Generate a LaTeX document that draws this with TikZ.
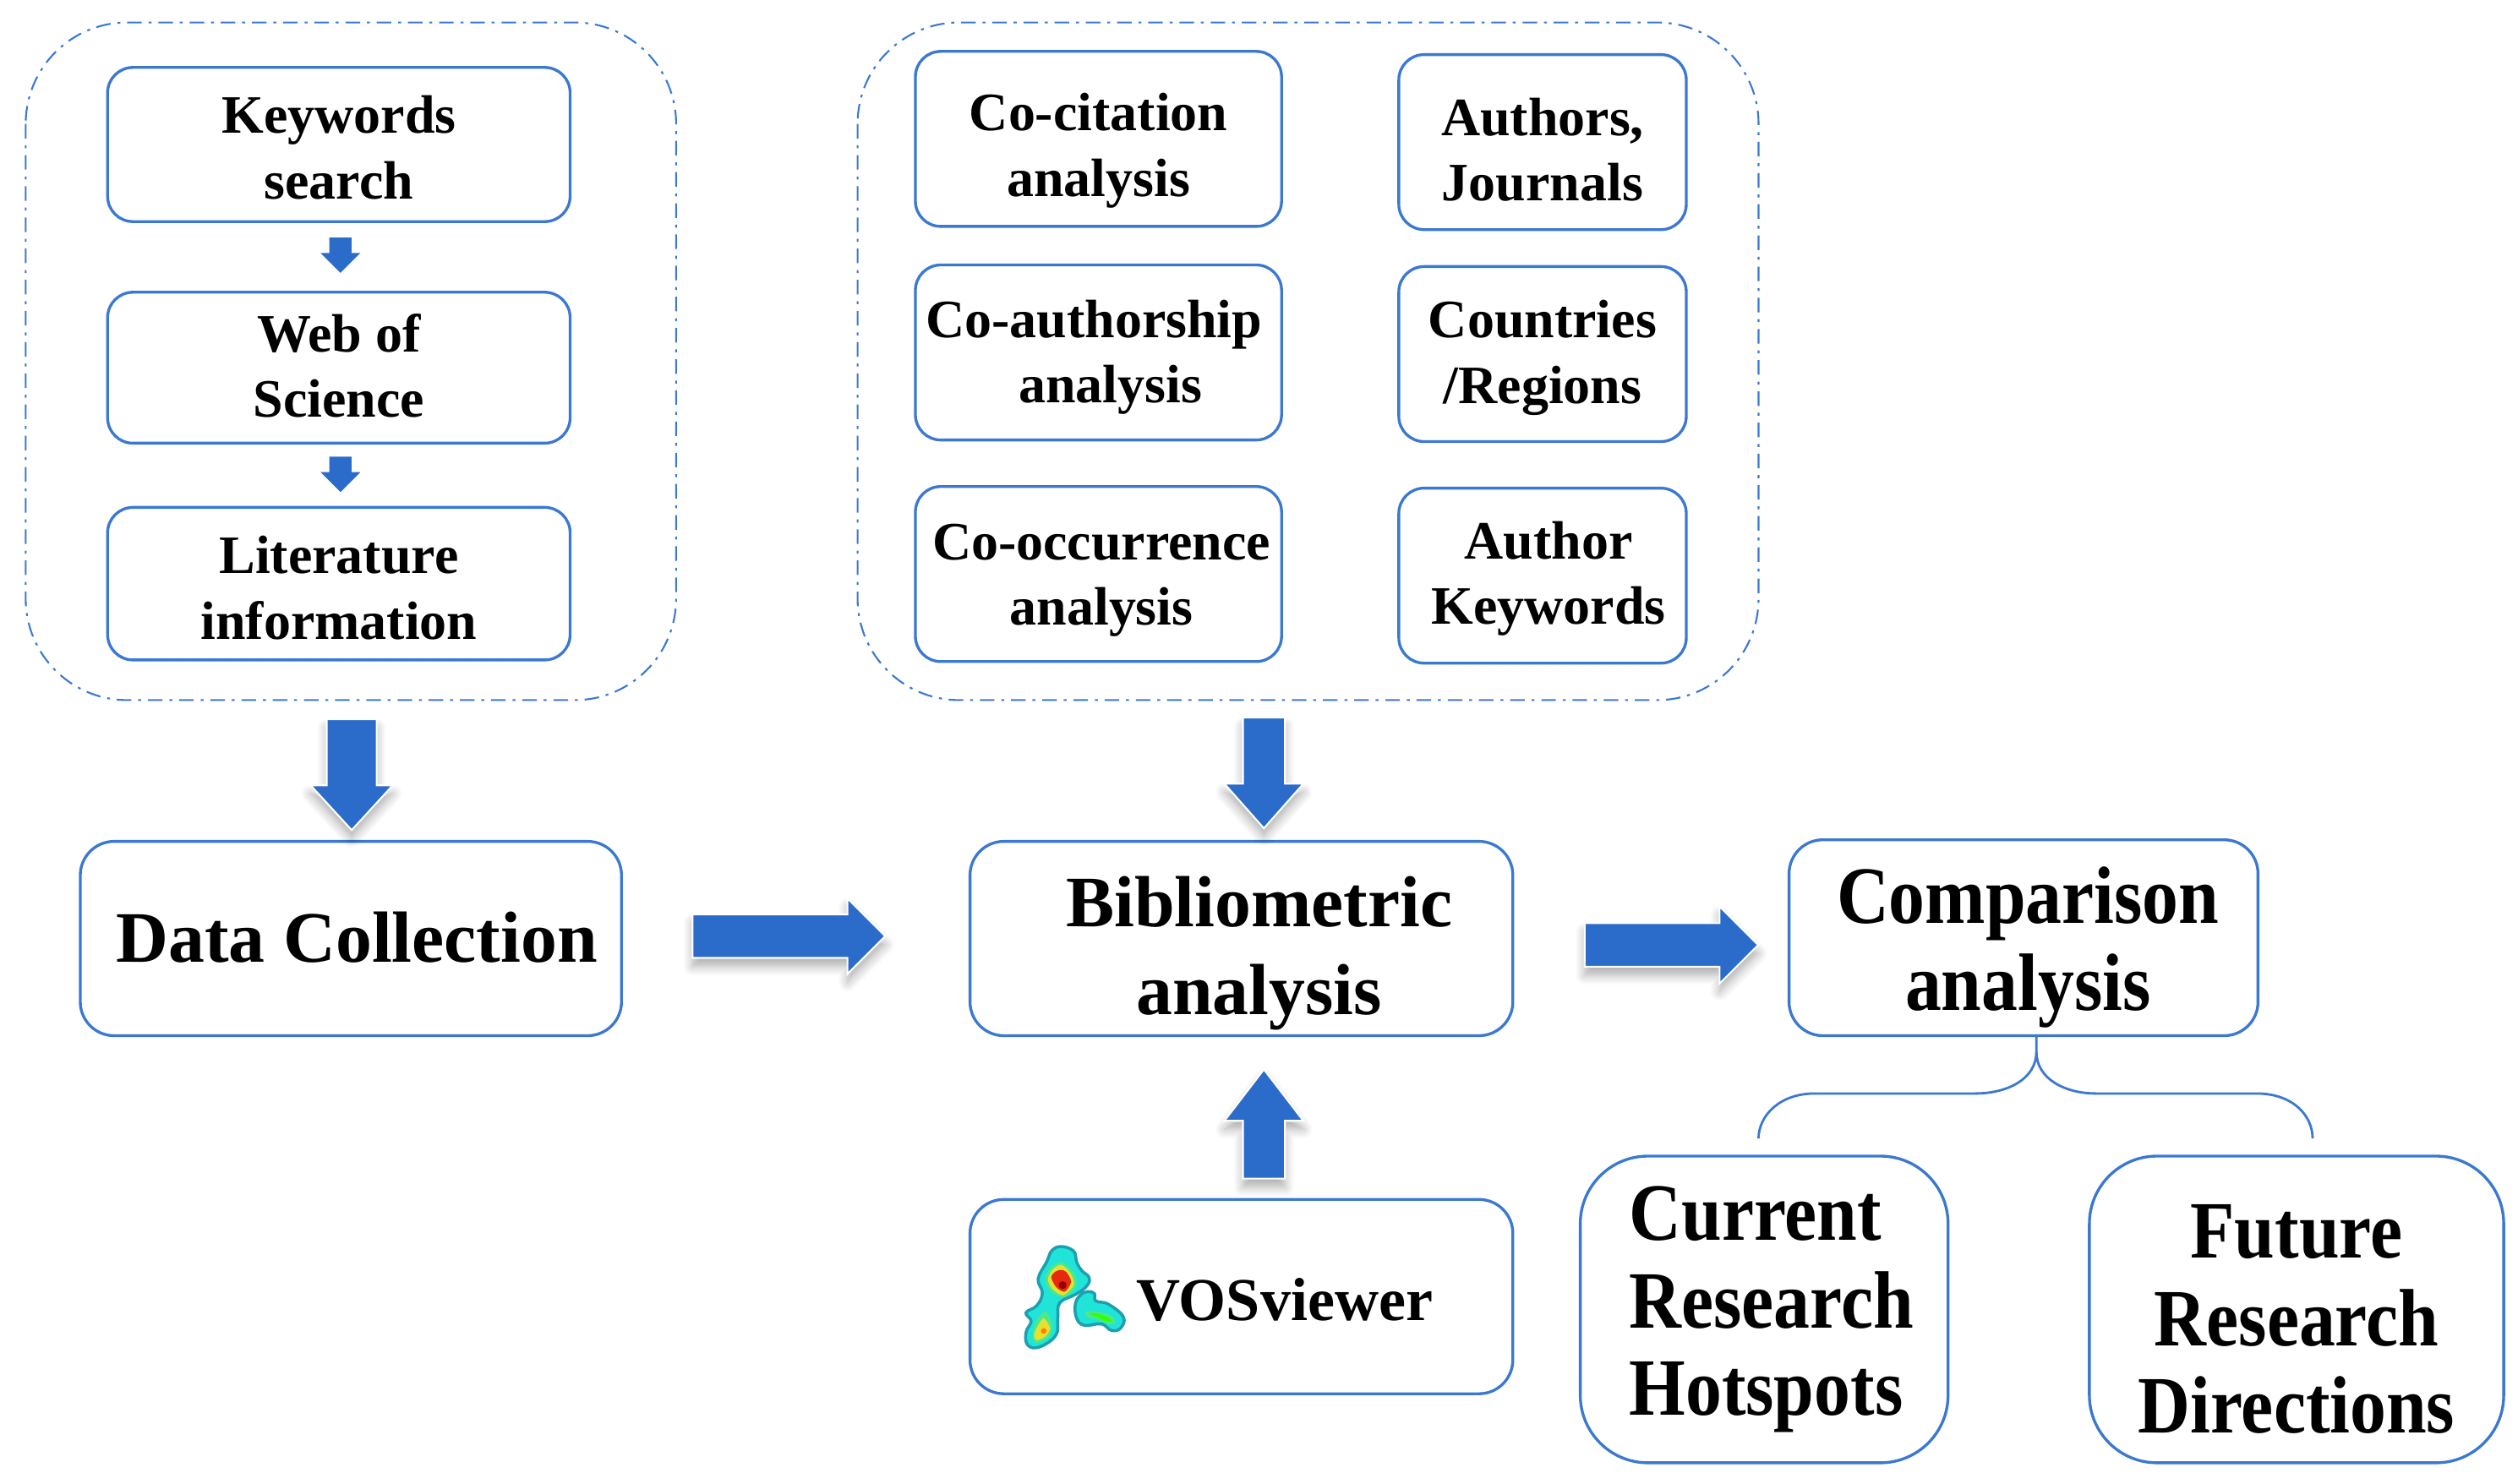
\documentclass[tikz,border=0pt]{standalone}
\usepackage{fontspec}
\setmainfont{Liberation Serif}[Ligatures=TeX]
\newfontfamily\tallfont{Liberation Serif}[FakeStretch=.89]
\usetikzlibrary{shapes.arrows,shadows.blur}
\definecolor{boxblue}{HTML}{3A78D2}
\definecolor{arrowblue}{HTML}{2B6CCB}
\newcommand{\du}{0.19mm}
\newcommand{\pad}[1]{\rule{0pt}{#1}}
\newcommand{\sink}[1]{\rule[-#1]{0pt}{0pt}}
\begin{document}
\begin{tikzpicture}
  [x=\du,y=-\du,every node/.style={align=center,text=black}]
  \tikzstyle{box} = [draw=boxblue,line width=.95pt,rounded corners=3mm,inner sep=0pt,
    font=\fontsize{18.2}{22}\bfseries\selectfont]
  \tikzstyle{bigbox} = [box,rounded corners=4mm,font=\fontsize{24.4}{29.6}\bfseries\selectfont]
  \tikzstyle{tallbox} = [box,font=\tallfont\fontsize{27.4}{29.4}\bfseries\selectfont]
  \tikzstyle{group} = [draw=boxblue,line width=.6pt,rounded corners=12mm,
    dash pattern=on 4.9pt off 2.3pt on 1pt off 2.3pt]
  \tikzstyle{blockarrow} = [single arrow,fill=arrowblue,draw=white,line width=.6pt,inner xsep=0pt,
    blur shadow={fill=arrowblue,shadow xshift=0pt,shadow yshift=-1mm,shadow blur radius=1.1mm,shadow blur steps=8,shadow opacity=32}]
  \tikzstyle{smallarrow} = [single arrow,fill=arrowblue,inner xsep=0pt]
  \useasboundingbox (0,0) rectangle (1567.9,924.2);

  % dashed groups
  \draw[group] (16,14) rectangle (421,436);
  \draw[group] (534,14) rectangle (1095,436);

  \node[box,minimum width=288*\du,minimum height=96*\du] (keyw) at (211,90) {\pad{14.7pt}Keywords\\search};
  \node[box,minimum width=288*\du,minimum height=94*\du] (wos) at (211,229) {Web of\\Science\sink{1.6pt}};
  \node[box,minimum width=288*\du,minimum height=95*\du] (lit) at (211,363.5) {\pad{15.4pt}Literature\\information};

  \node[box,minimum width=228*\du,minimum height=109*\du] (cocit) at (684,86.5) {\pad{20.6pt}Co-citation\\analysis};
  \node[box,minimum width=228*\du,minimum height=109*\du] (coauth) at (684,219.5) {\pad{15.7pt}\hspace*{-3pt}Co-authorship\\\hspace*{8pt}analysis};
  \node[box,minimum width=228*\du,minimum height=109*\du] (cooc) at (684,357.5) {\pad{16.3pt}\hspace*{2pt}Co-occurrence\\\hspace*{2pt}analysis};
  \node[box,minimum width=179*\du,minimum height=109*\du] (auth) at (960.5,88.5) {\pad{17.9pt}Authors,\\Journals};
  \node[box,minimum width=179*\du,minimum height=109*\du] (ctry) at (960.5,220.5) {\pad{15.2pt}Countries\\/Regions};
  \node[box,minimum width=179*\du,minimum height=109*\du] (akey) at (960.5,358.5) {\pad{14.7pt}\hspace*{4pt}Author\\\hspace*{4pt}Keywords};

  \node[bigbox,minimum width=337*\du,minimum height=121*\du] (data) at (218.5,584.5) {\hspace*{4pt}Data Collection\sink{1.2pt}};
  \node[bigbox,minimum width=338*\du,minimum height=121*\du] (biblio) at (773,584.5) {\pad{26.9pt}\hspace*{12pt}Bibliometric\\\hspace*{12pt}analysis};
  \node[bigbox,minimum width=338*\du,minimum height=121*\du,font=\fontsize{20.5}{24}\bfseries\selectfont] (vos) at (773,807.5) {\pad{16.4pt}\hspace*{29pt}VOSviewer};
  \node[tallbox,rounded corners=4mm,minimum width=292*\du,minimum height=122*\du] (comp) at (1260,584) {\pad{25.6pt}\hspace*{3pt}Comparison\\\hspace*{3pt}analysis};
  \node[tallbox,rounded corners=8mm,minimum width=229*\du,minimum height=191*\du,text width=168*\du,align=left] (curr) at (1098.5,815.5) {Current\\Research\\Hotspots\sink{5pt}};
  \node[tallbox,rounded corners=8mm,minimum width=258*\du,minimum height=191*\du] (futr) at (1430,815.5) {\pad{24.6pt}Future\\Research\\Directions};

  % small and big arrows
  \foreach \name/\x/\y in {downa/212/155.5,downb/212/292}
    \node[smallarrow,rotate=-90,minimum height=22*\du,minimum width=24*\du,inner ysep=6.5*\du,single arrow head extend=5.5*\du] (\name) at (\x,\y) {};
  \node[blockarrow,rotate=-90,minimum height=69*\du,minimum width=50*\du,inner ysep=15*\du,single arrow head extend=10*\du,single arrow tip angle=85] (down1) at (219,474) {};
  \node[blockarrow,rotate=-90,minimum height=69*\du,minimum width=48*\du,inner ysep=12.5*\du,single arrow head extend=11.5*\du,single arrow tip angle=83] (down2) at (787,474) {};
  \node[blockarrow,rotate=90,minimum height=68*\du,minimum width=48*\du,inner ysep=12.5*\du,single arrow head extend=11.5*\du,single arrow tip angle=75] (up1) at (787,708.5) {};
  \node[blockarrow,minimum height=120*\du,minimum width=46*\du,inner ysep=13*\du,single arrow head extend=10*\du] (right1) at (484.5,583) {};
  \node[blockarrow,minimum height=108*\du,minimum width=47*\du,inner ysep=13*\du,single arrow head extend=10.5*\du] (right2) at (1034,588.5) {};

  % branch under comparison
  \coordinate (stem) at (1268,645);
  \coordinate (fork) at (1268,655);
  \coordinate (endl) at (1095,709);
  \coordinate (endr) at (1440,709);
  \draw[boxblue,line width=.8pt] (stem) -- (fork) .. controls (1268,672) and (1250,681) .. (1230,681)
    -- (1130,681) .. controls (1108,681) and (1095,695) .. (endl);
  \draw[boxblue,line width=.8pt] (fork) .. controls (1268,672) and (1286,681) .. (1305,681)
    -- (1405,681) .. controls (1428,681) and (1440,695) .. (endr);

  % vosviewer mark
  \definecolor{rim}{HTML}{1C9FB0}
  \definecolor{aqua}{HTML}{20E4D8}
  \definecolor{mint}{HTML}{4CE88C}
  \definecolor{lemon}{HTML}{E6E030}
  \definecolor{hot}{HTML}{E62A10}
  \begin{scope}[shift={(621,763.2)},x=0.0333mm,y=-0.0333mm]
    \filldraw[draw=rim,fill=aqua,line width=1pt] plot[smooth cycle,tension=.7] coordinates {(230,75) (272,92) (282,130) (300,160) (326,185) (318,215) (278,245) (222,275) (215,330) (208,390) (150,432) (108,425) (102,380) (120,340) (102,310) (140,285) (160,240) (145,190) (175,130) (195,88)};
    \filldraw[draw=rim,fill=aqua,line width=1pt] plot[smooth cycle,tension=.7] coordinates {(320,235) (345,242) (350,268) (395,280) (448,325) (438,365) (405,373) (370,350) (310,355) (282,330) (277,280) (295,248)};
    \fill[mint] plot[smooth cycle] coordinates {(230,130) (270,165) (282,210) (240,255) (190,235) (170,190) (190,150)};
    \fill[lemon] plot[smooth cycle] coordinates {(228,140) (260,170) (272,210) (235,248) (195,225) (180,190) (198,155)};
    \fill[hot] plot[smooth cycle] coordinates {(225,158) (245,165) (262,200) (240,235) (210,220) (192,185) (205,165)};
    \fill[red!60!black] (232,212) circle (14);
    \fill[mint] plot[smooth cycle] coordinates {(170,305) (195,350) (185,395) (140,418) (125,395) (135,345)};
    \fill[lemon] plot[smooth cycle] coordinates {(165,330) (188,365) (170,395) (140,408) (130,390) (145,355)};
    \fill[orange] (165,375) circle (10);
    \fill[mint] plot[smooth cycle] coordinates {(315,305) (360,308) (408,322) (418,348) (390,350) (350,332) (318,325)};
    \fill[green!80!yellow] plot[smooth cycle] coordinates {(325,312) (360,314) (400,330) (405,342) (385,340) (350,324)};
  \end{scope}
\end{tikzpicture}
\end{document}
